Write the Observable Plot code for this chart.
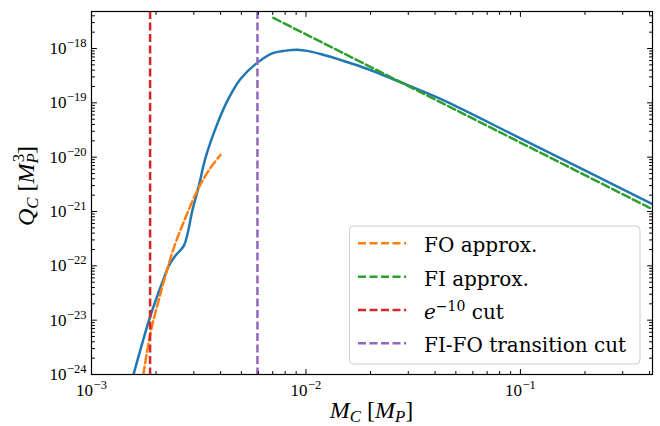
<!DOCTYPE html>
<html><head><meta charset="utf-8">
<script src="https://cdn.jsdelivr.net/npm/d3@7"></script>
<script src="https://cdn.jsdelivr.net/npm/@observablehq/plot@0.6"></script>
<style>body{margin:0;background:#fff;}</style>
</head><body><div id="chart"></div>
<script>
// ---- data ----
const xDomain = [1e-3, 0.413];
const yDomain = [1e-24, 4.8e-18];

const xMajorTicks = [1e-3, 1e-2, 1e-1];
const yMajorTicks = [1e-24, 1e-23, 1e-22, 1e-21, 1e-20, 1e-19, 1e-18];
const minorMantissas = [2, 3, 4, 5, 6, 7, 8, 9];

// Q_C (full result)
const fullX = [1.57e-3, 1.855e-3, 1.993e-3, 2.143e-3, 2.299e-3, 2.47e-3, 2.70e-3, 2.955e-3, 3.17e-3, 3.40e-3, 3.86e-3, 4.30e-3, 4.95e-3, 5.94e-3, 7.06e-3, 8.04e-3, 9.1e-3, 1.03e-2, 1.17e-2, 1.50e-2, 1.94e-2, 3.0e-2, 4.24e-2, 0.1, 0.413];
const fullY = [1e-24, 1.0e-23, 2.32e-23, 5.04e-23, 1.02e-22, 1.56e-22, 2.38e-22, 1.05e-21, 3.02e-21, 9.7e-21, 4.1e-20, 1.09e-19, 2.75e-19, 5.5e-19, 8.3e-19, 9.14e-19, 9.5e-19, 8.95e-19, 7.9e-19, 5.9e-19, 4.2e-19, 2.09e-19, 1.18e-19, 2.22e-20, 1.36e-21];

// FO approx.
const foX = [1.746e-3, 1.88e-3, 2.05e-3, 2.18e-3, 2.43e-3, 2.75e-3, 3.12e-3, 3.52e-3, 3.99e-3];
const foY = [1e-24, 5.6e-24, 2.2e-23, 5.4e-23, 2.24e-22, 7.9e-22, 2.45e-21, 5.7e-21, 1.1e-20];

// FI approx.
const fiX = [7.05e-3, 0.413];
const fiY = [3.66e-18, 1.1e-21];

// cuts
const expCut = 1.876e-3;
const transitionCut = 5.94e-3;

const legendLabels = [
  [{t: "FO approx."}],
  [{t: "FI approx."}],
  [{t: "e", i: true}, {t: "\u221210", sup: true}, {t: " cut"}],
  [{t: "FI-FO transition cut"}]
];
const legendColors = ["#ff7f0e", "#2ca02c", "#d62728", "#9467bd"];

// ---- build ----
const zip = (xs, ys) => xs.map((x, i) => ({x, y: ys[i]}));
const full = zip(fullX, fullY), fo = zip(foX, foY), fi = zip(fiX, fiY);

function minorTicks(lo, hi) {
  const out = [];
  for (let k = Math.floor(Math.log10(lo)); k <= Math.ceil(Math.log10(hi)); k++)
    for (const m of minorMantissas) { const v = m * Math.pow(10, k); if (v > lo && v < hi) out.push(v); }
  return out;
}
const xMinor = minorTicks(xDomain[0], xDomain[1]);
const yMinor = minorTicks(yDomain[0], yDomain[1]);

const tickShape = {draw(ctx, l) { ctx.moveTo(0, 0); ctx.lineTo(0, -l); }};
const tk = (data, opts) => Plot.vector(data, {shape: tickShape, anchor: "start", stroke: "black", strokeWidth: 1, ...opts});
const ticksFor = (maj, min, ch, anchors) => anchors.flatMap(([fa, rot]) => [
  tk(maj, {[ch]: d => d, frameAnchor: fa, rotate: rot, length: 5}),
  tk(min, {[ch]: d => d, frameAnchor: fa, rotate: rot, length: 3})
]);

const fmt = d => `10^${Math.round(Math.log10(d))}`;
const dash = "8,3.5";
const lw = 2.5;

const chart = Plot.plot({
  width: 660, height: 426,
  marginLeft: 91, marginRight: 8, marginTop: 11, marginBottom: 52,
  style: {fontFamily: "'Liberation Serif', serif", fontSize: "17px", color: "black", background: "white"},
  x: {type: "log", domain: xDomain},
  y: {type: "log", domain: yDomain},
  marks: [
    Plot.line(full, {x: "x", y: "y", stroke: "#1f77b4", strokeWidth: lw, curve: "catmull-rom", clip: true}),
    Plot.line(fo, {x: "x", y: "y", stroke: "#ff7f0e", strokeWidth: lw, strokeDasharray: dash, curve: "catmull-rom", clip: true}),
    Plot.line(fi, {x: "x", y: "y", stroke: "#2ca02c", strokeWidth: lw, strokeDasharray: dash, clip: true}),
    Plot.ruleX([expCut], {stroke: "#d62728", strokeWidth: lw, strokeDasharray: dash}),
    Plot.ruleX([transitionCut], {stroke: "#9467bd", strokeWidth: lw, strokeDasharray: dash}),
    ...ticksFor(xMajorTicks, xMinor, "x", [["bottom", 0], ["top", 180]]),
    ...ticksFor(yMajorTicks, yMinor, "y", [["left", 90], ["right", -90]]),
    Plot.axisX(xMajorTicks, {tickSize: 0, tickPadding: 9, tickFormat: fmt, label: null}),
    Plot.axisY(yMajorTicks, {tickSize: 0, tickPadding: 5, tickFormat: fmt, label: null}),
    Plot.frame({stroke: "black", strokeWidth: 1.2})
  ]
});
document.getElementById("chart").appendChild(chart);

const svg = d3.select(chart);
// tick labels: 10^k -> 10 with superscript
svg.selectAll("text").each(function() {
  const s = this.textContent;
  const m = /^10\^(-?\d+)$/.exec(s);
  if (!m) return;
  const el = d3.select(this);
  el.text("");
  el.append("tspan").text("10");
  el.append("tspan").attr("font-size", 12.5).attr("dy", -7).attr("dx", 0.5).text(m[1].replace("-", "\u2212"));
});

function mathText(sel, segs, size) {
  let shift = 0;
  segs.forEach(s => {
    const ts = sel.append("tspan").text(s.t);
    let target = 0, fs = size;
    if (s.sup) { target = -0.42 * size; fs = 0.7 * size; }
    if (s.sub) { target = 0.18 * size; fs = 0.7 * size; }
    if (s.i) ts.attr("font-style", "italic");
    ts.attr("font-size", fs);
    if (s.dx) ts.attr("dx", s.dx);
    if (target !== shift) { ts.attr("dy", target - shift); shift = target; }
  });
}

// axis labels
const xl = svg.append("text").attr("x", 371.5).attr("y", 418).attr("text-anchor", "middle")
  .attr("font-family", "'Liberation Serif', serif").attr("fill", "black");
mathText(xl, [{t: "M", i: true}, {t: "C", i: true, sub: true}, {t: " [", }, {t: "M", i: true}, {t: "P", i: true, sub: true}, {t: "]"}], 24);

const yl = svg.append("text").attr("transform", "translate(34,186) rotate(-90)").attr("text-anchor", "middle")
  .attr("font-family", "'Liberation Serif', serif").attr("fill", "black");
mathText(yl, [{t: "Q", i: true}, {t: "C", i: true, sub: true}, {t: " [", }, {t: "M", i: true}, {t: "P", i: true, sub: true}, {t: "3", sup: true, dx: -9}, {t: "]"}], 24);

// legend
const lg = svg.append("g").attr("text-anchor", "start");
lg.append("rect").attr("x", 349.5).attr("y", 226).attr("width", 290.5).attr("height", 138).attr("rx", 4)
  .attr("fill", "white").attr("fill-opacity", 0.8).attr("stroke", "#cccccc").attr("stroke-width", 1);
legendLabels.forEach((segs, i) => {
  const yy = 243.3 + i * 33.35;
  lg.append("line").attr("x1", 358).attr("x2", 406).attr("y1", yy).attr("y2", yy)
    .attr("stroke", legendColors[i]).attr("stroke-width", lw).attr("stroke-dasharray", dash);
  const t = lg.append("text").attr("x", 424).attr("y", yy + 9).attr("text-anchor", "start")
    .attr("font-family", "'DejaVu Serif', serif").attr("fill", "black");
  mathText(t, segs, 20);
});
</script>
</body></html>
